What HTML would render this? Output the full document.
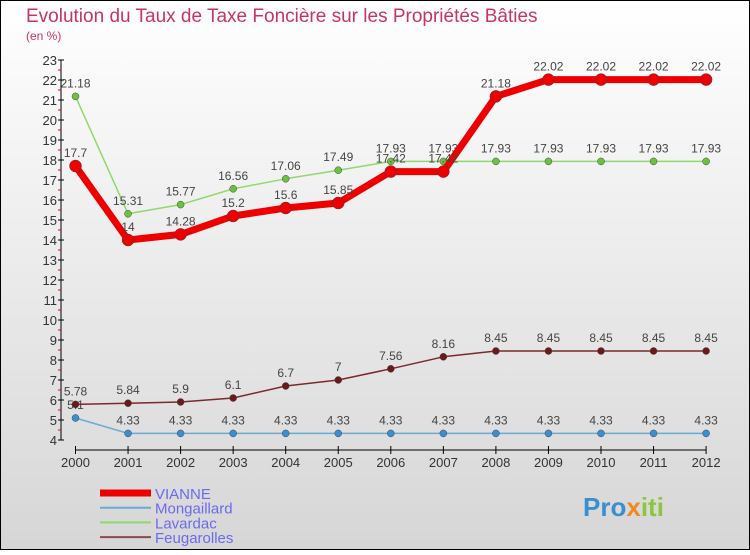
<!DOCTYPE html>
<html><head><meta charset="utf-8"><style>
body{margin:0;width:750px;height:550px;overflow:hidden;font-family:"Liberation Sans",sans-serif}
svg text{font-family:"Liberation Sans",sans-serif}
</style></head><body>
<svg id="c" width="750" height="550" xmlns="http://www.w3.org/2000/svg">
<defs><linearGradient id="bg" x1="0" y1="0" x2="0" y2="1"><stop offset="0" stop-color="#ffffff"/><stop offset="1" stop-color="#d6d6d6"/></linearGradient></defs>
<rect x="0.5" y="0.5" width="749" height="549" fill="url(#bg)" stroke="#000"/>
<text x="26" y="22" font-size="19" fill="#c8336a">Evolution du Taux de Taxe Foncière sur les Propriétés Bâties</text>
<text x="26" y="40" font-size="12" fill="#c8336a">(en %)</text>
<g id="axes"></g>
<g id="series"></g>
<g id="legend"></g>
<text x="583" y="516" font-size="26" font-weight="bold" fill="#3a8fd0">Pro<tspan fill="#f08a1c">x</tspan><tspan fill="#8cc63f">iti</tspan></text>
</svg>
<script>
const years=[2000,2001,2002,2003,2004,2005,2006,2007,2008,2009,2010,2011,2012];
const vianne=[17.7,14,14.28,15.2,15.6,15.85,17.42,17.42,21.18,22.02,22.02,22.02,22.02];
const mongaillard=[5.1,4.33,4.33,4.33,4.33,4.33,4.33,4.33,4.33,4.33,4.33,4.33,4.33];
const lavardac=[21.18,15.31,15.77,16.56,17.06,17.49,17.93,17.93,17.93,17.93,17.93,17.93,17.93];
const feugarolles=[5.78,5.84,5.9,6.1,6.7,7,7.56,8.16,8.45,8.45,8.45,8.45,8.45];
const yTicks=[4,5,6,7,8,9,10,11,12,13,14,15,16,17,18,19,20,21,22,23];
const NS="http://www.w3.org/2000/svg";
const X=i=>75.5+i*52.55, Y=v=>440-(v-4)*20;
function mk(t,a,p){const e=document.createElementNS(NS,t);for(const k in a)e.setAttribute(k,a[k]);p.appendChild(e);return e;}
const ax=document.getElementById('axes');
let l=mk('line',{x1:61,y1:Y(23),x2:61,y2:Y(4),stroke:'#000'},ax);


yTicks.forEach(v=>{
 let t=mk('line',{x1:58,y1:Y(v),x2:64,y2:Y(v),stroke:'#000'},ax);
 
 
 if(v<23){let m=mk('line',{x1:58,y1:Y(v+0.5),x2:61,y2:Y(v+0.5),stroke:'#e00'},ax);
 
 }
 let tx=mk('text',{x:57,y:Y(v)+5,'font-size':13,'text-anchor':'end',fill:'#333'},ax);tx.textContent=v;
 
 
});
l=mk('line',{x1:X(0),y1:450,x2:X(12),y2:450,stroke:'#000'},ax);


years.forEach((y,i)=>{
 let t=mk('line',{x1:X(i),y1:446,x2:X(i),y2:454,stroke:'#000'},ax);
 
 
 let tx=mk('text',{x:X(i),y:467,'font-size':13,'text-anchor':'middle',fill:'#333'},ax);tx.textContent=y;
 
 
});
const sg=document.getElementById('series');
function series(d,name,col,dot,w,r,labOff){
 const g=mk('g',{},sg);
 
 
 const p=mk('polyline',{points:d.map((v,i)=>X(i)+','+Y(v)).join(' '),fill:'none',stroke:col,'stroke-width':w,'stroke-linejoin':'round'},g);
 
 
 d.forEach((v,i)=>{
  const c=mk('circle',{cx:X(i),cy:Y(v),r:r,fill:dot,stroke:'#444','stroke-width':0.5},g);
  
  
  const t=mk('text',{x:X(i),y:Y(v)+labOff,'font-size':12,'text-anchor':'middle',fill:'#444'},g);
  t.textContent=v;
  
  
 });
}
series(mongaillard,'mongaillard','#6aaad6','#3a8fd0',1.5,3.5,-9);
series(feugarolles,'feugarolles','#7a2a2a','#6a1a1a',1.5,3.5,-9);
series(lavardac,'lavardac','#8fd96a','#6ac23f',1.5,3.5,-9);
series(vianne,'vianne','#ee0000','#ee0000',7,6,-9);
const lg=document.getElementById('legend');
[['VIANNE','#ee0000',7],['Mongaillard','#6aaad6',2],['Lavardac','#8fd96a',2],['Feugarolles','#8a4a4a',2]].forEach((e,i)=>{
 const y=493+i*14.7;
 const ln=mk('line',{x1:100,y1:y,x2:151,y2:y,stroke:e[1],'stroke-width':e[2]},lg);
 
 
 const t=mk('text',{x:155,y:y+6,'font-size':15,fill:'#6a6af0'},lg);t.textContent=e[0];
 
 
});
</script>
</body></html>
